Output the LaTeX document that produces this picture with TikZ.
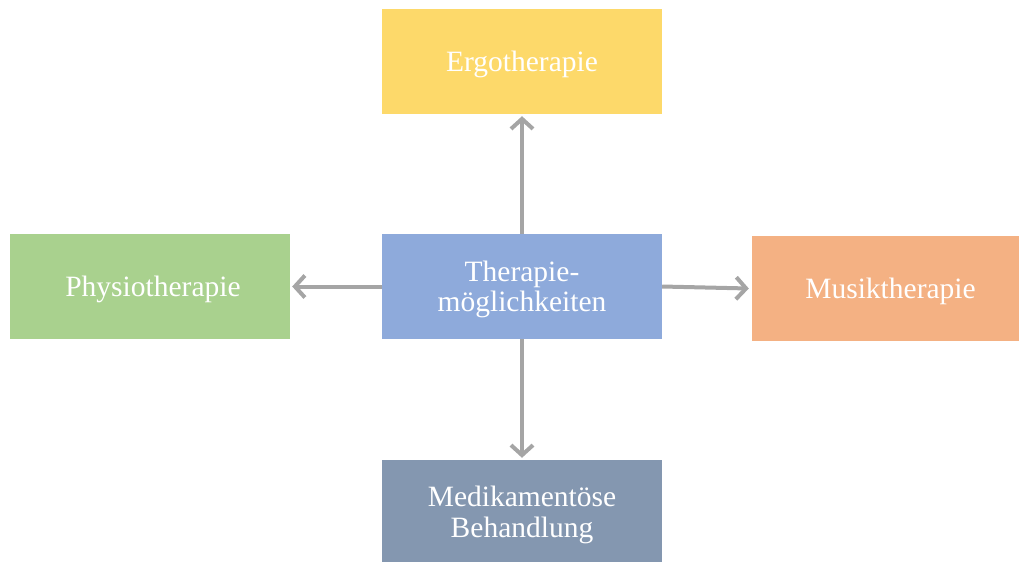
\documentclass[tikz,border=0pt]{standalone}
\usepackage{fontspec}
\setmainfont{Liberation Serif}
\usetikzlibrary{arrows.meta}
\definecolor{cyellow}{HTML}{FDD96A}
\definecolor{cblue}{HTML}{8EAADB}
\definecolor{cgreen}{HTML}{A9D18E}
\definecolor{corange}{HTML}{F4B183}
\definecolor{cslate}{HTML}{8497B0}
\definecolor{cgray}{HTML}{A5A5A5}
\tikzset{
  box/.style={rectangle, inner sep=0pt},
  txt/.style={text=white, align=center, inner sep=0pt,
    font=\fontsize{29.5}{30.5}\selectfont},
  conn/.style={draw=cgray, line width=4pt, -{Straight Barb[length=10pt,width=22pt,line width=4pt]}}
}
\begin{document}
\begin{tikzpicture}[x=1pt,y=-1pt]
\useasboundingbox (0,0) rectangle (1019,563);
\node[box, fill=cblue, minimum width=280pt, minimum height=105pt,
  label={[txt,yshift=-3pt]center:Therapie-\\möglichkeiten}] (c) at (522,286.5) {};
\node[box, fill=cyellow, minimum width=280pt, minimum height=105pt,
  label={[txt,yshift=-3pt]center:Ergotherapie}] (e) at (522,61.5) {};
\node[box, fill=cgreen, minimum width=280pt, minimum height=105pt,
  label={[txt,yshift=-3pt,xshift=3pt]center:Physiotherapie}] (p) at (150,286.5) {};
\node[box, fill=corange, minimum width=267pt, minimum height=105pt,
  label={[txt,yshift=-3pt,xshift=5pt]center:Musiktherapie}] (m) at (885.5,288.5) {};
\node[box, fill=cslate, minimum width=280pt, minimum height=102pt,
  label={[txt,yshift=-4pt]center:Medikamentöse\\Behandlung}] (d) at (522,511) {};
\draw[conn] (c.north) -- ([yshift=-2pt]e.south);
\draw[conn] (c.west) -- ([xshift=2pt]p.east);
\draw[conn] (c.east) -- ([xshift=-3pt]m.west);
\draw[conn] (c.south) -- ([yshift=2pt]d.north);
\end{tikzpicture}
\end{document}
